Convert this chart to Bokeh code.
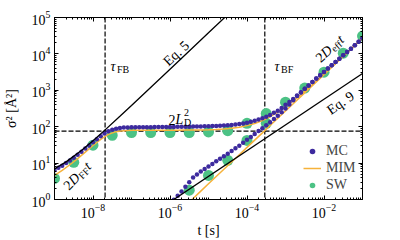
import math
import numpy as np
from bokeh.plotting import figure
from bokeh.models import (LogAxis, FixedTicker, Span, Label, Legend, LegendItem, Range1d)
from bokeh.embed import file_html
from bokeh.resources import INLINE

# ---------------- data ----------------
# MC (dense Monte-Carlo dots), log10(t) grid step 0.1
mc_free_logt = np.round(np.linspace(-9.0, -1.0, 81), 2)
mc_free_msd = [
    6.4, 7.4, 8.5, 10.0, 11.8, 14.0, 16.9, 20.4, 25.0, 30.5,
    37.3, 45.4, 54.8, 64.7, 74.4, 82.5, 88.5, 92.3, 94.5, 95.7,
    96.3, 96.7, 96.8, 96.9, 97.0, 97.2, 97.4, 97.6, 97.8, 98.0,
    98.5, 98.7, 99.0, 99.3, 99.7, 100.1, 100.5, 101.0, 101.5, 102.1,
    102.9, 103.8, 104.9, 106.2, 107.8, 109.7, 112.2, 115.1, 118.8, 123.4,
    129.2, 136.4, 145.4, 156.7, 170.8, 188.6, 211, 240, 276, 325,
    400, 480, 580, 720, 880, 1100, 1360, 1700, 2100, 2600,
    3200, 3950, 4850, 6000, 7400, 9200, 11300, 13900, 17200, 21500,
    27000,
]
mc_bound_logt = np.round(np.linspace(-5.9, -1.0, 50), 2)
mc_bound_msd = [
    0.98, 1.26, 1.66, 2.24, 3.0, 4.0, 4.9, 5.9, 6.9, 8.1,
    9.5, 11.2, 13.2, 15.5, 18.2, 21.4, 25.7, 30.2, 36.3, 43.6,
    52.5, 63, 76, 91, 110, 132, 162, 200, 251, 316,
    407, 537, 700, 870, 1100, 1360, 1700, 2100, 2600, 3200,
    3950, 4850, 6000, 7400, 9200, 11300, 13900, 17200, 21500, 27000,
]

# MIM (lines), log10(t) grid step 0.2
mim_free_logt = np.round(np.linspace(-9.0, -1.0, 41), 2)
mim_free_msd = [
    4.6, 6.3, 9.0, 13.3, 20.1, 30.4, 45.0, 61.5, 73.1, 78.0,
    79.5, 79.8, 80.0, 80.1, 80.2, 80.3, 80.4, 80.7, 81.1, 81.7,
    82.7, 84.3, 86.8, 90.8, 97.0, 107, 123, 148, 188, 250,
    350, 508, 758, 1155, 1783, 2780, 4360, 6860, 10800, 17100,
    27080,
]
mim_bound_logt = np.round(np.linspace(-5.6, -1.0, 24), 2)
mim_bound_msd = [
    0.68, 1.07, 1.70, 2.70, 4.28, 6.78, 10.7, 17.0, 27.0, 42.8,
    67.8, 108, 170, 270, 428, 678, 1075, 1703, 2700, 4280,
    6780, 10750, 17030, 27000,
]

# SW (big circles), half-decade times
sw_free_logt = np.round(np.linspace(-9.0, -1.0, 17), 2)
sw_free_msd = [3.8, 10.5, 31, 58, 69, 69, 69, 69, 72, 78, 124, 230, 470, 1150, 3150, 10500, 31000]
sw_bound_logt = [-5.5, -5.0, -4.5, -4.0, -3.5]
sw_bound_msd = [1.8, 4.6, 11.9, 42, 124]

# analytic reference lines
eq5_t = [1e-9, 2e-9, 5e-9, 1e-8, 2e-8, 5e-8, 1e-7, 1e-6, 1e-5, 1e-4]
eq5_msd = [7.0, 10.8, 22.2, 41.2, 79.2, 193, 383, 3800, 38000, 380000]
eq9_t = [1e-6, 1e-1]
eq9_msd = [0.85, 2900]

tau_FB = 2.06e-8
tau_BF = 2.9e-4
two_LD2 = 76

x_major = [1e-8, 1e-6, 1e-4, 1e-2]
y_major = [1, 10, 100, 1e3, 1e4, 1e5]

# ---------------- style ----------------
FONT = "Liberation Serif"
PURPLE = "#3d2a9e"
ORANGE = "#f6b23a"
GREEN = "#4cc285"

p = figure(width=392, height=240, x_axis_type="log", y_axis_type="log",
           x_range=Range1d(1e-9, 1e-1), y_range=Range1d(1, 1e5),
           output_backend="svg", toolbar_location=None,
           min_border_left=52, min_border_right=30, min_border_top=17, min_border_bottom=41)
p.grid.visible = False
p.outline_line_color = "black"
p.outline_line_width = 1
p.outline_line_alpha = 1
p.background_fill_color = "white"
p.border_fill_color = "white"

x_minor = [m * 10.0 ** k for k in range(-9, 0) for m in range(1, 10)
           if not any(abs(m * 10.0 ** k - M) / M < 1e-9 for M in x_major)]
y_minor = [m * 10.0 ** k for k in range(0, 5) for m in range(2, 10)]


def style_axis(ax, show_labels=True):
    ax.major_tick_in = 4
    ax.major_tick_out = 0
    ax.minor_tick_in = 2
    ax.minor_tick_out = 0
    ax.axis_line_color = "black"
    ax.major_tick_line_color = "black"
    ax.minor_tick_line_color = "black"
    ax.major_label_text_font = FONT
    ax.major_label_text_color = "black"
    ax.major_label_text_font_size = "14px"
    if not show_labels:
        ax.major_label_text_font_size = "2px"
        ax.major_label_text_alpha = 0
        ax.major_label_standoff = 0


p.xaxis.ticker = FixedTicker(ticks=x_major, minor_ticks=x_minor)
p.yaxis.ticker = FixedTicker(ticks=y_major, minor_ticks=y_minor)
style_axis(p.xaxis[0])
style_axis(p.yaxis[0])
p.xaxis.major_label_standoff = 4
p.yaxis.major_label_standoff = 4
p.xaxis.axis_label = "t [s]"
p.yaxis.axis_label = "σ² [Å²]"
for ax in (p.xaxis[0], p.yaxis[0]):
    ax.axis_label_text_font = FONT
    ax.axis_label_text_font_size = "14px"
    ax.axis_label_text_font_style = "normal"
    ax.axis_label_text_color = "black"
p.xaxis.axis_label_standoff = 2
p.yaxis.axis_label_standoff = 10

top = LogAxis(ticker=FixedTicker(ticks=x_major, minor_ticks=x_minor))
style_axis(top, False)
p.add_layout(top, "above")
right = LogAxis(ticker=FixedTicker(ticks=y_major, minor_ticks=y_minor))
style_axis(right, False)
p.add_layout(right, "right")

# dashed guides
for loc, dim in ((tau_FB, "height"), (tau_BF, "height"), (two_LD2, "width")):
    p.add_layout(Span(location=loc, dimension=dim, line_color="black",
                      line_dash="5 2", line_width=1.2, level="underlay"))

# data
t_sw_f = [10.0 ** v for v in sw_free_logt]
t_sw_b = [10.0 ** v for v in sw_bound_logt]
r_sw = p.scatter(t_sw_f, sw_free_msd, size=11, color=GREEN, line_color=None)
p.scatter(t_sw_b, sw_bound_msd, size=11, color=GREEN, line_color=None)

r_mim = p.line([10.0 ** v for v in mim_free_logt], mim_free_msd, color=ORANGE, line_width=1.5)
p.line([10.0 ** v for v in mim_bound_logt], mim_bound_msd, color=ORANGE, line_width=1.5)

r_mc = p.scatter([10.0 ** v for v in mc_free_logt], mc_free_msd, size=4.5, color=PURPLE, line_color=None)
p.scatter([10.0 ** v for v in mc_bound_logt], mc_bound_msd, size=4.5, color=PURPLE, line_color=None)

p.line(eq5_t, eq5_msd, color="black", line_width=1.3)
p.line(eq9_t, eq9_msd, color="black", line_width=1.3)

legend = Legend(items=[LegendItem(label="MC", renderers=[r_mc]),
                       LegendItem(label="MIM", renderers=[r_mim]),
                       LegendItem(label="SW", renderers=[r_sw])],
                location=(247, 4), orientation="vertical",
                label_text_font=FONT, label_text_font_size="14px",
                glyph_width=18, glyph_height=14, label_height=14,
                spacing=1, padding=2, margin=0, label_standoff=5,
                background_fill_alpha=0, border_line_alpha=0)
p.add_layout(legend)

# ---------------- annotations (page px -> frame screen) ----------------
X0, Y0 = 52, 199


def rich(px, py, pieces, angle=0.0):
    th = math.radians(angle)
    bx, by = px - X0, Y0 - py
    adv = 0.0
    for text, size, shift, width, style in pieces:
        sx = bx + adv * math.cos(th) - shift * math.sin(th)
        sy = by + adv * math.sin(th) + shift * math.cos(th)
        p.add_layout(Label(x=sx, y=sy, x_units="screen", y_units="screen", text=text,
                           text_font=FONT, text_font_size=f"{size}px", text_font_style=style,
                           angle=angle, angle_units="deg", text_align="left",
                           text_baseline="alphabetic", text_color="black"))
        adv += width


rich(108, 66, [("τ", 14, 0, 6.5, "italic"), ("FB", 10, -3, 12, "normal")])
rich(272, 66, [("τ", 14, 0, 6.5, "italic"), ("BF", 10, -3, 12, "normal")])
rich(166, 119, [("2", 14, 0, 7, "normal"), ("L", 14, 0, 8.5, "italic"), ("2", 10, 7, 0, "normal"),
                ("D", 10, -3, 7, "normal")])
rich(163, 63, [("Eq. 5", 14, 0, 30, "normal")], angle=43)
rich(326, 111, [("Eq. 9", 14, 0, 30, "normal")], angle=35)
rich(315, 59, [("2", 14, 0, 7, "normal"), ("D", 14, 0, 10.5, "italic"),
               ("eff", 10, -3, 11.5, "normal"), ("t", 14, 0, 4, "italic")], angle=42)
rich(63, 187, [("2", 14, 0, 7, "normal"), ("D", 14, 0, 10.5, "italic"),
               ("FF", 10, -3, 11.5, "normal"), ("t", 14, 0, 4, "italic")], angle=45)

open("out.html", "w").write(file_html(p, INLINE))
